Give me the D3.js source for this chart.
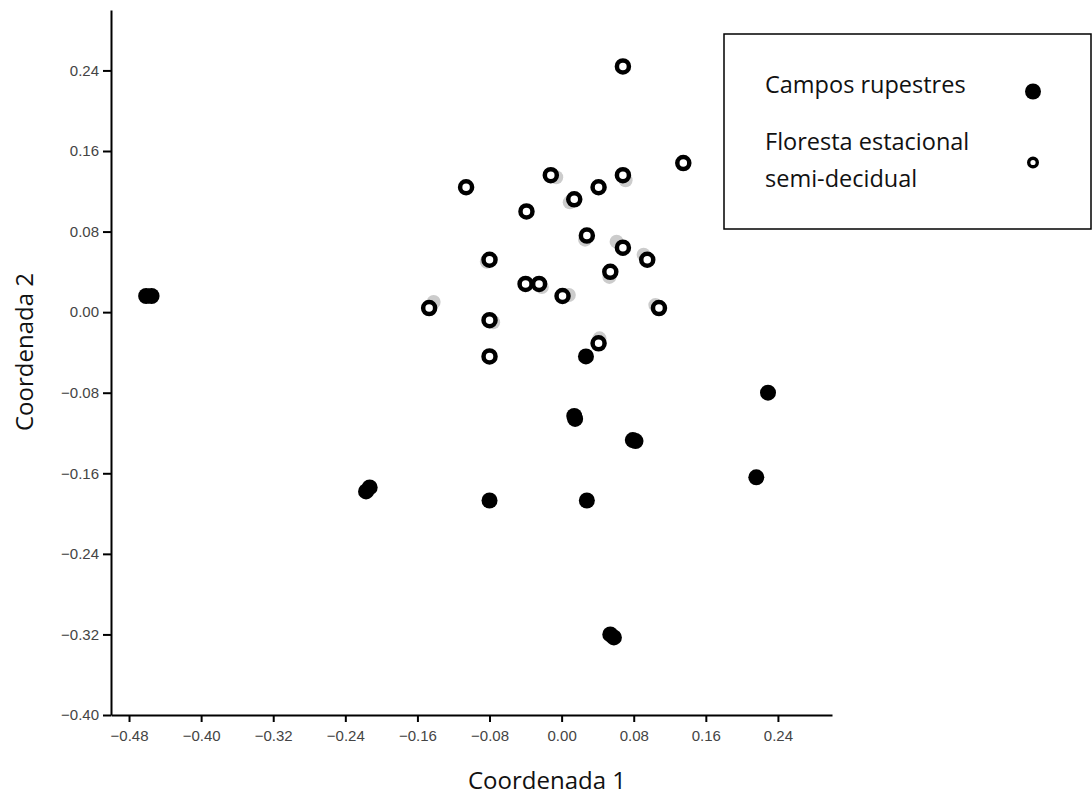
<!DOCTYPE html>
<html>
<head>
<meta charset="utf-8">
<script src="https://cdn.jsdelivr.net/npm/d3@7"></script>
<style>
  body { margin: 0; background: #fff; }
  .tick text { font-family: "Liberation Sans", Arial, sans-serif; font-size: 15px; fill: #444; }
  .lbl { font-family: "Open Sans", sans-serif; fill: #111; }
</style>
</head>
<body>
<div id="chart"></div>
<script>
// Campos rupestres (pontos cheios)
var campos = [
  [-0.461, 0.016], [-0.455, 0.016],
  [-0.217, -0.178], [-0.213, -0.174],
  [-0.080, -0.187], [0.028, -0.187],
  [0.027, -0.044],
  [0.014, -0.103], [0.015, -0.106],
  [0.079, -0.127], [0.082, -0.128],
  [0.229, -0.080], [0.216, -0.164],
  [0.054, -0.320], [0.058, -0.323]
];

// Floresta estacional semi-decidual (pontos abertos)
var floresta = [
  [0.068, 0.244], [-0.106, 0.124], [-0.012, 0.136], [0.041, 0.124],
  [0.068, 0.136], [0.135, 0.148], [0.014, 0.112], [-0.039, 0.100],
  [0.028, 0.076], [0.068, 0.064], [0.095, 0.052], [-0.080, 0.052],
  [0.054, 0.040], [-0.040, 0.028], [-0.025, 0.028], [0.001, 0.016],
  [-0.147, 0.004], [0.108, 0.004], [-0.080, -0.008], [0.041, -0.031],
  [-0.080, -0.044]
];

// sombras cinzentas por baixo dos pontos abertos
var sombra = [
  [0.009, 0.109], [-0.006, 0.134], [0.071, 0.131], [0.061, 0.070],
  [0.091, 0.057], [0.053, 0.035], [-0.142, 0.010], [0.008, 0.017],
  [0.042, -0.026], [0.026, 0.072], [-0.083, 0.050], [-0.076, -0.010],
  [-0.022, 0.025], [0.104, 0.007]
];

var xTicks = [-0.48, -0.40, -0.32, -0.24, -0.16, -0.08, 0.00, 0.08, 0.16, 0.24];
var yTicks = [-0.40, -0.32, -0.24, -0.16, -0.08, 0.00, 0.08, 0.16, 0.24];

var legendNames = [["Campos rupestres"], ["Floresta estacional", "semi-decidual"]];

var width = 1092, height = 798;

var x = d3.scaleLinear().domain([-0.50, 0.30]).range([111, 832]),
    y = d3.scaleLinear().domain([-0.40, 0.30]).range([715, 10]);

var svg = d3.select('#chart')
	.append('svg')
	.attr('width', width)
	.attr('height', height);

var fmt = d3.format(".2f");

svg.append("g")
	.attr("transform", "translate(0,715)")
	.call(d3.axisBottom(x).tickValues(xTicks).tickFormat(fmt).tickSize(7).tickSizeOuter(0).tickPadding(8));

svg.append("g")
	.attr("transform", "translate(111,0)")
	.call(d3.axisLeft(y).tickValues(yTicks).tickFormat(fmt).tickSize(8).tickSizeOuter(0).tickPadding(4));

svg.selectAll(".domain").attr("stroke", "#000").attr("stroke-width", 2);
svg.selectAll(".tick line").attr("stroke", "#000").attr("stroke-width", 2);

// titulos dos eixos
svg.append("text")
	.attr("class", "lbl")
	.attr("x", 547)
	.attr("y", 789)
	.attr("text-anchor", "middle")
	.style("font-size", "24px")
	.text("Coordenada 1");

svg.append("text")
	.attr("class", "lbl")
	.attr("transform", "translate(33,352) rotate(-90)")
	.attr("text-anchor", "middle")
	.style("font-size", "24px")
	.text("Coordenada 2");

// pontos
svg.append("g").selectAll("circle")
	.data(sombra)
	.enter().append("circle")
	.attr("cx", function(d) { return x(d[0]); })
	.attr("cy", function(d) { return y(d[1]); })
	.attr("r", 7)
	.attr("fill", "#cccccc");

svg.append("g").selectAll("circle")
	.data(floresta)
	.enter().append("circle")
	.attr("cx", function(d) { return x(d[0]); })
	.attr("cy", function(d) { return y(d[1]); })
	.attr("r", 6)
	.attr("fill", "#fff")
	.attr("stroke", "#000")
	.attr("stroke-width", 4.5);

svg.append("g").selectAll("circle")
	.data(campos)
	.enter().append("circle")
	.attr("cx", function(d) { return x(d[0]); })
	.attr("cy", function(d) { return y(d[1]); })
	.attr("r", 8)
	.attr("fill", "#000");

// legenda
var legend = svg.append("g");
legend.append("rect")
	.attr("x", 724).attr("y", 34)
	.attr("width", 367).attr("height", 195)
	.attr("fill", "#fff")
	.attr("stroke", "#000")
	.attr("stroke-width", 1.5);

legend.append("text")
	.attr("class", "lbl")
	.attr("x", 765).attr("y", 93)
	.style("font-size", "23.5px")
	.text(legendNames[0][0]);
legend.append("circle")
	.attr("cx", 1033).attr("cy", 91.5)
	.attr("r", 8)
	.attr("fill", "#000");

legend.append("text")
	.attr("class", "lbl")
	.attr("x", 765).attr("y", 150)
	.style("font-size", "23.5px")
	.text(legendNames[1][0]);
legend.append("text")
	.attr("class", "lbl")
	.attr("x", 765).attr("y", 187)
	.style("font-size", "23.5px")
	.text(legendNames[1][1]);
legend.append("circle")
	.attr("cx", 1033).attr("cy", 162.5)
	.attr("r", 4.3)
	.attr("fill", "#fff")
	.attr("stroke", "#000")
	.attr("stroke-width", 3.4);
</script>
</body>
</html>
